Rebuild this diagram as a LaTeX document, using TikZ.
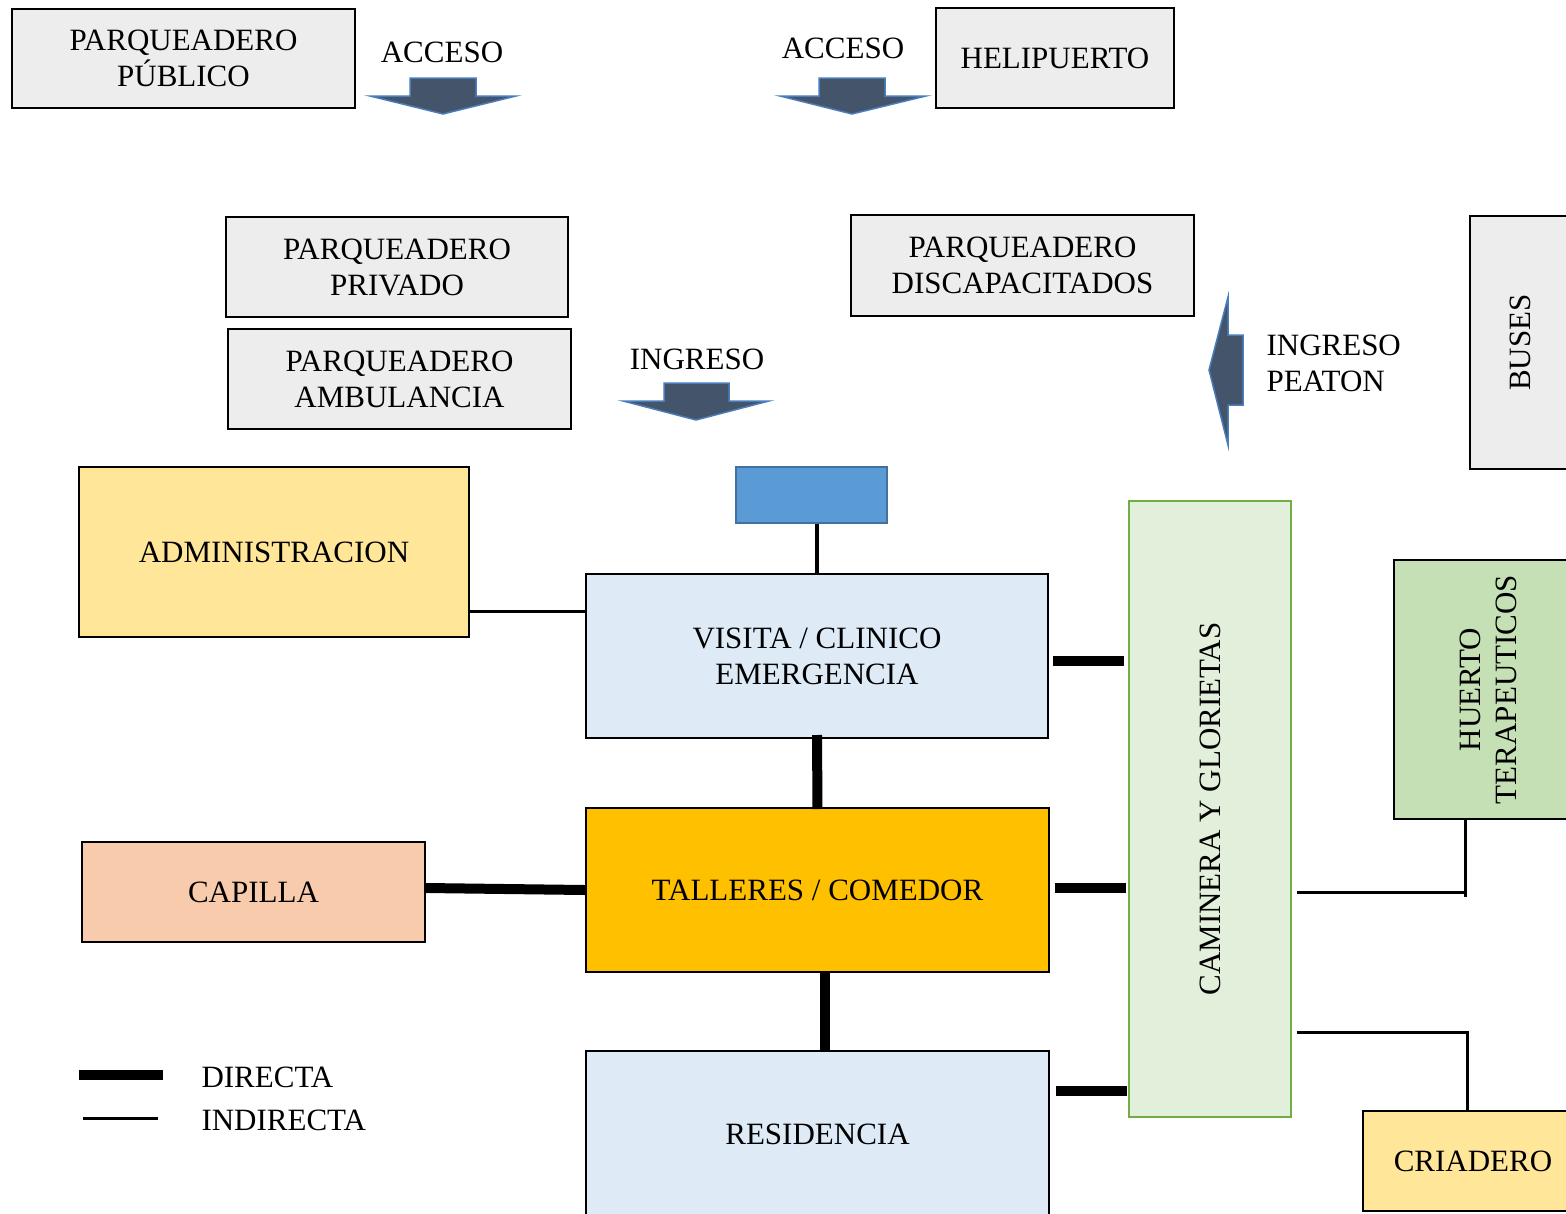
\documentclass[tikz,border=0pt]{standalone}
\usepackage{fontspec}
\setmainfont{Liberation Serif}
\definecolor{boxgray}{HTML}{EDEDED}
\definecolor{arrfill}{HTML}{44546A}
\definecolor{arredge}{HTML}{4A7EBB}
\definecolor{blueacc}{HTML}{5B9BD5}
\definecolor{blueedge}{HTML}{41719C}
\definecolor{yellowL}{HTML}{FFE699}
\definecolor{lightblue}{HTML}{DEEBF7}
\definecolor{orangeT}{HTML}{FFC000}
\definecolor{peach}{HTML}{F8CBAD}
\definecolor{greenL}{HTML}{E2EFDA}
\definecolor{greenedge}{HTML}{70AD47}
\definecolor{huertoG}{HTML}{C5E0B4}
\begin{document}
\begin{tikzpicture}[x=1pt,y=-1pt,
  every node/.style={font=\fontsize{31}{36}\selectfont},
  box/.style={draw=black, line width=2pt, align=center, inner sep=0pt},
  pbox/.style={box, fill=boxgray},
  direct/.style={line width=10pt},
  indirect/.style={line width=3pt},
  arrowshape/.style={fill=arrfill, draw=arredge, line width=1.5pt, line join=miter}]
\useasboundingbox (0,0) rectangle (1566,1213);
\clip (0,0) rectangle (1566,1213);

% top row
\node[pbox, minimum width=343pt, minimum height=99pt] (pub) at (183.5,58.5) {PARQUEADERO\\PÚBLICO};
\node (acc1) at (442,52) {ACCESO};
\draw[arrowshape] (410,78) -- (476,78) -- (476,96) -- (516,96) -- (443,114) -- (370,96) -- (410,96) -- cycle;
\node (acc2) at (843,48) {ACCESO};
\draw[arrowshape] (819,78) -- (885,78) -- (885,96) -- (926,96) -- (852,114) -- (780,96) -- (819,96) -- cycle;
\node[pbox, minimum width=238pt, minimum height=100pt] (heli) at (1055,58) {HELIPUERTO};

% parking
\node[pbox, minimum width=342pt, minimum height=100pt] (priv) at (397,267) {PARQUEADERO\\PRIVADO};
\node[pbox, minimum width=343pt, minimum height=100pt] (amb) at (399.5,379) {PARQUEADERO\\AMBULANCIA};
\node[pbox, minimum width=343pt, minimum height=101pt] (disc) at (1022.5,265.5) {PARQUEADERO\\DISCAPACITADOS};
\node (ing) at (697,359) {INGRESO};
\draw[arrowshape] (664,383) -- (729,383) -- (729,401) -- (769,401) -- (696,420) -- (623,401) -- (664,401) -- cycle;
\draw[arrowshape] (1243,335) -- (1243,405) -- (1228,405) -- (1228,445) -- (1209,370) -- (1228,297) -- (1228,335) -- cycle;
\node[anchor=west, align=left] (peaton) at (1263,363) {INGRESO\\PEATON};
\node[pbox, rotate=90, minimum width=253pt, minimum height=100pt] (buses) at (1520,342.5) {BUSES};

% main blocks
\node[box, fill=blueacc, draw=blueedge, minimum width=151pt, minimum height=56pt] (ent) at (811.5,495) {};
\node[box, fill=yellowL, minimum width=390pt, minimum height=170pt] (admin) at (274,552) {ADMINISTRACION};
\node[box, fill=lightblue, minimum width=462pt, minimum height=164pt] (visita) at (817,656) {VISITA / CLINICO\\EMERGENCIA};
\node[box, fill=orangeT, minimum width=463pt, minimum height=164pt] (talleres) at (817.5,890) {TALLERES / COMEDOR};
\node[box, fill=peach, minimum width=343pt, minimum height=100pt] (capilla) at (253.5,892) {CAPILLA};
\node[box, fill=lightblue, minimum width=463pt, minimum height=166pt] (res) at (817.5,1134) {RESIDENCIA};
\node[box, fill=greenL, draw=greenedge, line width=2.5pt, rotate=90, minimum width=616pt, minimum height=162pt] (cam) at (1210,809) {CAMINERA Y GLORIETAS};
\node[box, fill=huertoG, rotate=90, minimum width=259pt, minimum height=188pt] (huerto) at (1488,689.5) {HUERTO\\TERAPEUTICOS};
\node[box, fill=yellowL, minimum width=220pt, minimum height=100pt] (criadero) at (1473,1161) {CRIADERO};

% connectors
\draw[line width=4pt] (ent.south -| visita.north) -- (visita.north);
\draw[indirect] (admin.east |- 0,611) -- (visita.west |- 0,611);
\draw[direct] ([yshift=4pt]visita.south) -- ([yshift=-2pt]talleres.north);
\draw[direct] (capilla.east |- 0,888) -- (talleres.west |- 0,890);
\draw[direct] (talleres.south -| 825,0) -- (res.north -| 825,0);
\draw[direct, shorten <=4pt, shorten >=4pt] (visita.east |- 0,661) -- (cam.north |- 0,661);
\draw[direct, shorten <=5pt, shorten >=2pt] (talleres.east |- 0,888) -- (cam.north |- 0,888);
\draw[direct, shorten <=6pt, shorten >=1pt] (res.east |- 0,1091) -- (cam.north |- 0,1091);
\draw[indirect, shorten <=5pt] (cam.south |- 0,892) -- (1466,892);
\draw[indirect] (huerto.west -| 1465,0) -- (1465,897);
\draw[indirect, shorten <=5pt, line join=miter] (cam.south |- 0,1032) -- (1467,1032) -- (criadero.north -| 1467,0);

% legend
\draw[direct] (79,1075) -- (163,1075);
\draw[indirect] (83,1118) -- (158,1118);
\node[anchor=west] (ldir) at (198,1077) {DIRECTA};
\node[anchor=west] (lind) at (198,1120) {INDIRECTA};
\end{tikzpicture}
\end{document}
